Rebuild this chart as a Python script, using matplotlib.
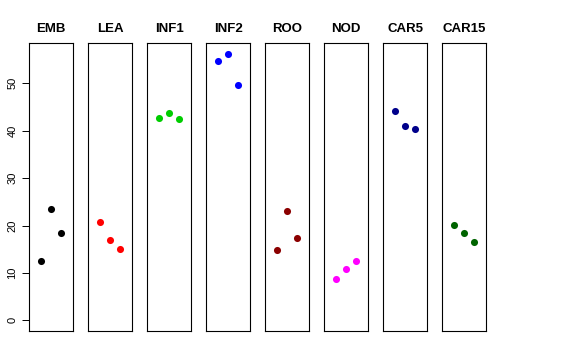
import matplotlib
matplotlib.use("Agg")
import matplotlib.pyplot as plt

plt.rcParams["font.family"] = ["Liberation Sans", "DejaVu Sans"]

# Tissue groups, three replicates each
tissues = ["EMB", "LEA", "INF1", "INF2", "ROO", "NOD", "CAR5", "CAR15"]
colors = ["black", "red", "#00CD00", "blue", "#8B0000", "magenta", "#00008B", "#006400"]
replicate = [1, 2, 3]
values = [
    [12.6, 23.5, 18.5],
    [20.8, 17.0, 15.0],
    [42.7, 43.8, 42.5],
    [54.7, 56.2, 49.6],
    [14.9, 23.1, 17.3],
    [8.7, 10.9, 12.6],
    [44.2, 41.1, 40.3],
    [20.2, 18.5, 16.6],
]
yticks = [0, 10, 20, 30, 40, 50]

W, H = 576, 360
fig = plt.figure(figsize=(W / 100, H / 100), dpi=100)

ymax = 56.2
ypad = 0.04 * ymax
left0, step, width = 28.7, 59.0, 44.7
top, bottom = 43.3, 331.0

for i, (name, col, vals) in enumerate(zip(tissues, colors, values)):
    x0 = left0 + step * i
    ax = fig.add_axes([x0 / W, 1 - bottom / H, width / W, (bottom - top) / H])
    ax.scatter(replicate, vals, s=26, color=col, linewidths=0, zorder=3)
    ax.set_xlim(0 - 0.16, 4 + 0.16)
    ax.set_ylim(-ypad, ymax + ypad)
    ax.set_xticks([])
    ax.set_title(name, fontsize=9.5, fontweight="bold", pad=8)
    for s in ax.spines.values():
        s.set_linewidth(0.8)
    if i == 0:
        ax.set_yticks(yticks)
        ax.set_yticklabels([str(t) for t in yticks], rotation=90, va="center", fontsize=8)
        ax.tick_params(axis="y", length=5, width=0.7, pad=3)
    else:
        ax.set_yticks([])

fig.savefig("out.png", dpi=100)
